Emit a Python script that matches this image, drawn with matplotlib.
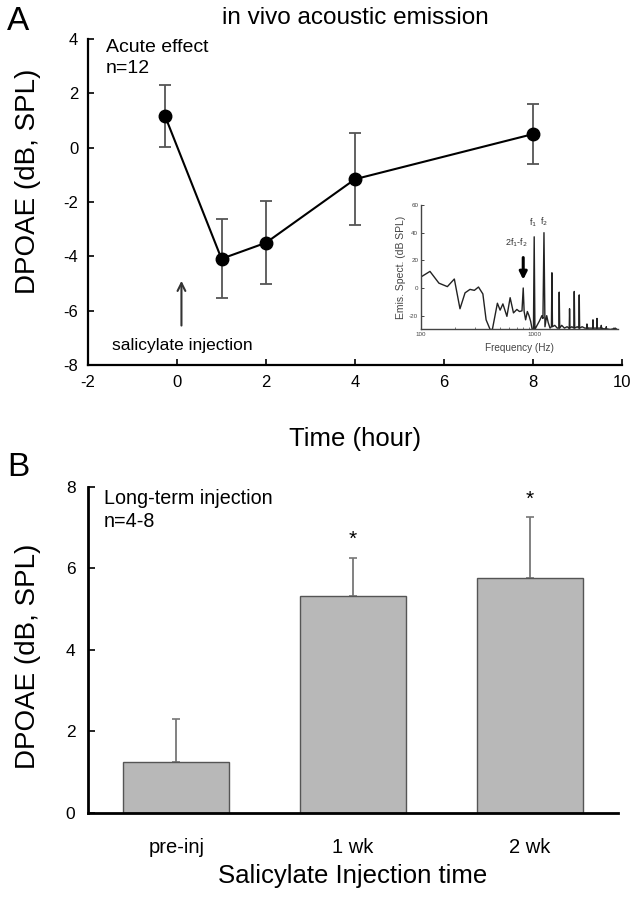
import matplotlib
matplotlib.use("Agg")
import matplotlib.pyplot as plt

plt.rcParams['font.family'] = ['Liberation Sans', 'DejaVu Sans']
plt.rcParams['axes.unicode_minus'] = False

# panel A: acute effect
hours = [-0.27, 1, 2, 4, 8]
dpoae_acute = [1.17, -4.09, -3.5, -1.16, 0.5]
err_acute = [1.13, 1.46, 1.52, 1.7, 1.1]

# inset: emission spectrum
spec_freq = [100, 120, 144, 171, 197, 221, 245, 271, 296, 322, 352, 376, 408, 427,
             473, 500, 529, 574, 613, 656, 703, 741, 780, 800, 815, 840, 870, 900,
             930, 960, 985, 1000, 1015, 1060, 1110, 1170, 1195, 1220, 1245, 1290,
             1330, 1380, 1420, 1434, 1450, 1520, 1600, 1650, 1664, 1680, 1750, 1850,
             1950, 2040, 2053, 2070, 2150, 2240, 2259, 2280, 2400, 2480, 2500, 2520,
             2650, 2800, 2910, 2925, 2940, 3100, 3290, 3306, 3320, 3450, 3570, 3586,
             3600, 3750, 3900, 3915, 3930, 4100, 4320, 4335, 4350, 4700, 5000, 5200, 5400]
spec_db = [8, 12, 3.5, 1, 6.5, -15, -3.5, -1, -1.7, 0.7, -4.3, -23, -30, -30,
           -11, -16, -11.5, -20.5, -7, -18, -15.5, -17, -16.5, 0, -17, -23, -17, -20,
           -24, -30, -30, 37, -30, -27, -24, -20, -22, 40, -28, -20,
           -25, -29, -28, 11, -28, -27, -29, -29, -3, -29, -27, -29,
           -28, -29, -15, -29, -28, -29, -2.5, -29, -28, -29, -5, -29,
           -28, -29, -29, -26, -29, -29, -29, -23, -29, -29, -29, -22,
           -29, -29, -29, -27, -29, -29.5, -29.5, -28, -29.5, -30, -29.5, -29, -30]

# panel B: long-term injection
groups = ["pre-inj", "1 wk", "2 wk"]
dpoae_long = [1.24, 5.33, 5.75]
err_long = [1.06, 0.93, 1.5]

W, H = 636, 898
fig = plt.figure(figsize=(W / 100, H / 100), dpi=100)

def box(l, t, r, b):
    return [l / W, 1 - b / H, (r - l) / W, (b - t) / H]

# ---- panel A
ax = fig.add_axes(box(88, 39, 622, 365))
ax.errorbar(hours, dpoae_acute, yerr=err_acute, fmt='none', ecolor='#555555',
            elinewidth=1.3, capsize=4, capthick=1.3, zorder=2)
ax.plot(hours, dpoae_acute, color='black', lw=1.5, marker='o', ms=9, zorder=3)
ax.set_xlim(-2, 10)
ax.set_ylim(-8, 4)
ax.set_xticks(range(-2, 11, 2))
ax.set_yticks(range(-8, 5, 2))
for s in ['top', 'right']:
    ax.spines[s].set_visible(False)
for s in ['left', 'bottom']:
    ax.spines[s].set_linewidth(1.6)
ax.tick_params(direction='in', length=4, width=1.2, labelsize=12, pad=7)
ax.set_ylabel("DPOAE (dB, SPL)", fontsize=20)
ax.yaxis.set_label_coords(-0.088, 0.564)
ax.set_xlabel("Time (hour)", fontsize=18.5)
ax.xaxis.set_label_coords(0.5, -0.19)
ax.text(-1.6, 3.7, "Acute effect", fontsize=14, va='center')
ax.text(-1.6, 2.92, "n=12", fontsize=14, va='center')
ax.annotate("", xy=(0.1, -4.8), xytext=(0.1, -6.65),
            arrowprops=dict(arrowstyle='->', color='#333333', lw=1.5, mutation_scale=14))
ax.text(0.13, -7.3, "salicylate injection", fontsize=12.5, ha='center', va='center')

fig.text(355 / W, 1 - 18 / H, "in vivo acoustic emission", fontsize=17.5, ha='center', va='center')
fig.text(18 / W, 1 - 21 / H, "A", fontsize=24, ha='center', va='center')
fig.text(18 / W, 1 - 467 / H, "B", fontsize=24, ha='center', va='center')

# ---- inset
ins = fig.add_axes(box(421, 205, 618, 329.5))
ins.plot(spec_freq, spec_db, color='#222222', lw=1.0)
ins.set_xscale('log')
ins.set_xlim(100, 5500)
ins.set_ylim(-30, 60)
ins.set_yticks([-20, 0, 20, 40, 60])
ins.set_xticks([100, 1000])
ins.set_xticklabels(["100", "1000"])
for s in ['top', 'right']:
    ins.spines[s].set_visible(False)
for s in ['left', 'bottom']:
    ins.spines[s].set_linewidth(1.0)
    ins.spines[s].set_color('#444444')
ins.tick_params(which='both', direction='in', length=2, width=0.7, labelsize=4.5,
                colors='#444444', pad=2)
ins.tick_params(which='minor', length=1.2, width=0.5)
ins.set_ylabel("Emis. Spect. (dB SPL)", fontsize=7.5, color='#444444', labelpad=2)
ins.set_xlabel("Frequency (Hz)", fontsize=7.2, color='#444444', labelpad=4)
ins.patch.set_alpha(0)
ins.annotate("", xy=(800, 4), xytext=(800, 24),
             arrowprops=dict(arrowstyle='-|>', color='black', lw=2.2, mutation_scale=11))
ins.text(700, 33, "2f$_1$-f$_2$", fontsize=6.5, ha='center', va='center', color='#333333')
ins.text(985, 47, "f$_1$", fontsize=6.5, ha='center', va='center', color='#333333')
ins.text(1230, 48, "f$_2$", fontsize=6.5, ha='center', va='center', color='#333333')

# ---- panel B
bx = fig.add_axes(box(88, 486.7, 618, 813))
pos = range(len(groups))
bx.bar(pos, dpoae_long, width=0.6, color='#b8b8b8', edgecolor='#555555', lw=1.0, zorder=2)
bx.errorbar(pos, dpoae_long, yerr=[[0] * 3, err_long], fmt='none', ecolor='#777777',
            elinewidth=1.3, capsize=3, capthick=1.2, zorder=1)
for i, v in enumerate(dpoae_long):
    if i > 0:
        bx.text(i, v + err_long[i] + 0.45, "*", fontsize=15, ha='center', va='center')
bx.set_xlim(-0.5, 2.5)
bx.set_ylim(0, 8)
bx.set_xticks(list(pos))
bx.set_xticklabels(groups)
bx.set_yticks(range(0, 9, 2))
for s in ['top', 'right']:
    bx.spines[s].set_visible(False)
for s in ['left', 'bottom']:
    bx.spines[s].set_linewidth(2.0)
bx.tick_params(axis='y', direction='in', length=5, width=1.2, labelsize=12.5, pad=9)
bx.tick_params(axis='x', length=0, labelsize=14.5, pad=18)
bx.set_ylabel("DPOAE (dB, SPL)", fontsize=20)
bx.yaxis.set_label_coords(-0.088, 0.48)
bx.set_xlabel("Salicylate Injection time", fontsize=18.5)
bx.xaxis.set_label_coords(0.5, -0.155)
bx.text(-0.41, 7.72, "Long-term injection", fontsize=14.2, va='center')
bx.text(-0.41, 7.14, "n=4-8", fontsize=14.2, va='center')

fig.savefig("out.png", dpi=100)
